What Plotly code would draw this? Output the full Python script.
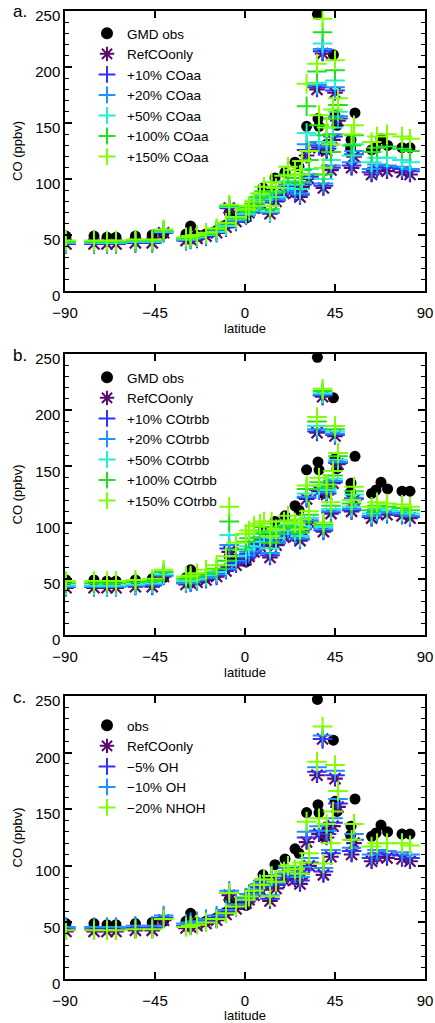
import plotly.graph_objects as go

# ---------------- data ----------------
obs_lat = [-89.5, -75.5, -69, -64.5, -54.8, -46.4, -40.7, -29.5, -27.2, -24, -19.5, -14.2, -9.5, -7.9,
           -4.5, 0.5, 9, 13.2, 15, 20, 25, 27, 30.8, 36.2, 36.5, 37, 39.2, 40.8, 44.2, 45, 46,
           52.8, 53, 55, 63.3, 65.5, 68, 71.3, 78.5, 82.5]
obs_co = [49, 49, 48, 48, 49, 50, 51, 51, 58, 50, 51, 54, 59, 70,
          67, 65, 92, 88, 101, 106, 115, 111, 147, 247, 154, 147, 126, 131, 211, 157, 148,
          127, 135, 159, 126, 129, 136, 130, 128, 128]

mod_lat = [-89.5, -75.5, -69, -64.5, -54.8, -46.4, -40.7, -29.5, -27.2, -24, -19.5, -14.2, -9.5, -7.9,
           -4.5, 0.5, 2.0, 4.5, 7.5, 9.5, 12.5, 13.3, 15.5, 19.5, 21.5, 25, 27.5, 28.5, 30.8, 32,
           36, 37, 38.8, 39.2, 40.8, 43, 44, 45, 46.5, 53.3, 54.5, 63.3, 66, 71, 78.5, 82.5]
ref_co = [42, 42, 42, 42, 43, 43, 52, 45, 46, 47, 49, 52, 57, 74,
          62, 67, 70, 74, 79, 83, 69, 85, 80, 87, 92, 88, 84, 93, 121, 100,
          180, 128, 212, 92, 125, 108, 135, 177, 152, 110, 120, 104, 108, 107, 106, 104]

# panel a: anthropogenic CO emissions increased
aa10 = [42, 42, 42, 42, 43, 43, 52, 45, 46, 47, 49, 52, 57, 74,
        62, 68, 71, 74, 80, 84, 70, 86, 81, 88, 93, 89, 86, 95, 126, 102,
        182, 130, 214, 94, 127, 110, 138, 179, 154, 112, 122, 106, 110, 110, 109, 107]
aa20 = [43, 43, 43, 43, 44, 44, 53, 46, 47, 48, 50, 53, 58, 75,
        63, 68, 71, 75, 80, 85, 70, 87, 82, 89, 95, 91, 87, 97, 131, 104,
        184, 133, 216, 96, 129, 112, 140, 182, 156, 115, 125, 109, 113, 112, 111, 109]
aa50 = [43, 43, 43, 43, 44, 44, 53, 46, 47, 48, 50, 53, 58, 75,
        64, 69, 72, 76, 82, 86, 71, 89, 84, 92, 98, 95, 91, 101, 141, 109,
        186, 139, 221, 100, 133, 117, 146, 188, 160, 121, 131, 115, 119, 119, 117, 115]
aa100 = [44, 44, 44, 44, 45, 45, 54, 47, 48, 49, 51, 55, 60, 76,
         65, 71, 74, 78, 84, 89, 73, 93, 88, 97, 104, 101, 97, 108, 165, 117,
         196, 148, 231, 104, 139, 124, 154, 197, 166, 130, 139, 124, 128, 129, 127, 125]
aa150 = [45, 45, 45, 45, 46, 46, 55, 48, 49, 50, 52, 56, 61, 77,
         66, 73, 76, 80, 87, 93, 76, 97, 92, 103, 111, 108, 104, 116, 185, 125,
         203, 157, 243, 110, 146, 131, 162, 206, 172, 140, 148, 133, 138, 140, 138, 136]

# panel b: tropical biomass burning CO emissions increased
bb10 = [43, 43, 43, 43, 44, 44, 53, 46, 47, 48, 50, 53, 58, 77,
        64, 69, 72, 76, 81, 85, 71, 87, 82, 88, 93, 89, 85, 94, 122, 101,
        181, 129, 213, 93, 126, 109, 136, 178, 153, 111, 121, 105, 109, 108, 107, 105]
bb20 = [43, 43, 43, 43, 44, 45, 53, 46, 47, 49, 51, 54, 59, 80,
        66, 71, 74, 78, 83, 87, 73, 88, 83, 90, 95, 90, 86, 95, 123, 102,
        183, 130, 214, 94, 127, 110, 137, 179, 154, 112, 122, 106, 110, 109, 108, 106]
bb50 = [44, 44, 44, 44, 45, 46, 54, 48, 49, 50, 53, 56, 62, 89,
        70, 76, 79, 83, 87, 91, 77, 92, 86, 93, 98, 93, 88, 97, 126, 104,
        186, 133, 215, 96, 129, 112, 139, 181, 156, 114, 125, 108, 112, 111, 110, 108]
bb100 = [46, 46, 46, 46, 47, 48, 56, 50, 51, 53, 55, 59, 66, 101,
         76, 83, 86, 90, 93, 96, 82, 96, 90, 97, 102, 96, 91, 100, 130, 107,
         190, 136, 217, 98, 131, 115, 142, 183, 159, 117, 128, 111, 115, 114, 113, 111]
bb150 = [48, 48, 48, 48, 49, 50, 58, 52, 53, 55, 58, 62, 70, 114,
         82, 90, 93, 97, 99, 101, 88, 101, 94, 101, 106, 100, 94, 103, 133, 110,
         194, 140, 219, 100, 134, 118, 146, 186, 162, 120, 132, 114, 118, 117, 116, 114]

# panel c: OH reduced
oh5 = [44, 44, 44, 44, 45, 45, 54, 47, 48, 49, 51, 54, 59, 76,
       64, 69, 72, 76, 81, 86, 71, 88, 83, 90, 95, 91, 87, 96, 125, 103,
       183, 131, 212, 95, 128, 111, 138, 180, 155, 113, 123, 107, 111, 110, 109, 107]
oh10 = [46, 46, 46, 46, 47, 47, 56, 49, 50, 51, 53, 56, 61, 78,
        66, 72, 75, 79, 84, 88, 74, 91, 85, 93, 98, 94, 90, 99, 130, 107,
        187, 135, 215, 98, 131, 114, 142, 184, 159, 116, 128, 110, 114, 113, 112, 110]
nhoh20 = [43, 43, 43, 43, 44, 44, 53, 46, 47, 48, 50, 53, 58, 76,
          64, 70, 73, 78, 83, 88, 73, 91, 86, 95, 100, 97, 93, 103, 139, 111,
          192, 142, 223, 102, 137, 120, 148, 189, 166, 123, 137, 117, 120, 120, 120, 118]

panel_labels = ["a.", "b.", "c."]
panel_series = [
    [("GMD obs", None), ("RefCOonly", None), ("+10% COaa", aa10), ("+20% COaa", aa20),
     ("+50% COaa", aa50), ("+100% COaa", aa100), ("+150% COaa", aa150)],
    [("GMD obs", None), ("RefCOonly", None), ("+10% COtrbb", bb10), ("+20% COtrbb", bb20),
     ("+50% COtrbb", bb50), ("+100% COtrbb", bb100), ("+150% COtrbb", bb150)],
    [("obs", None), ("RefCOonly", None), ("\u22125% OH", oh5), ("\u221210% OH", oh10),
     ("\u221220% NHOH", nhoh20)],
]
panel_colors = [
    ["#3030ff", "#1e90ff", "#22f0d0", "#20e020", "#80ff00"],
    ["#3030ff", "#1e90ff", "#22f0d0", "#20e020", "#80ff00"],
    ["#3030ff", "#1e90ff", "#80ff00"],
]
x_ticks = [-90, -45, 0, 45, 90]
y_ticks = [0, 50, 100, 150, 200, 250]

# ---------------- figure ----------------
W, H = 435, 1023
FONT = "Liberation Sans, Arial, sans-serif"
ref_color = "#5a0c6e"

# pixel positions of each panel (top, bottom) and legend top offset
panel_px = [(11, 291), (354, 635), (696, 979)]
legend_off = [7, 8, 14]

fig = go.Figure()
layout = dict(
    width=W, height=H, margin=dict(l=65, r=10, t=0, b=0, autoexpand=False),
    paper_bgcolor="white", plot_bgcolor="white",
    font=dict(family=FONT, size=14, color="black"),
    showlegend=True,
)
annotations = []

for p in range(3):
    sfx = "" if p == 0 else str(p + 1)
    xa, ya = "x" + sfx, "y" + sfx
    lg = "legend" + sfx
    series = panel_series[p]
    # obs
    fig.add_trace(go.Scatter(x=obs_lat, y=obs_co, mode="markers", name=series[0][0],
                             xaxis=xa, yaxis=ya, legend=lg,
                             marker=dict(symbol="circle", size=11, color="black",
                                         line=dict(width=0))))
    # reference
    fig.add_trace(go.Scatter(x=mod_lat, y=ref_co, mode="markers", name=series[1][0],
                             xaxis=xa, yaxis=ya, legend=lg,
                             marker=dict(symbol="asterisk-open", size=13, color=ref_color,
                                         line=dict(color=ref_color, width=2.2))))
    for (name, vals), col in zip(series[2:], panel_colors[p]):
        fig.add_trace(go.Scatter(x=mod_lat, y=vals, mode="markers", name=name,
                                 xaxis=xa, yaxis=ya, legend=lg,
                                 marker=dict(symbol="cross-thin-open", size=14, color=col,
                                             line=dict(color=col, width=2))))
    top, bot = panel_px[p]
    dom = [1 - bot / H, 1 - top / H]
    layout["xaxis" + sfx] = dict(
        domain=[0, 1], range=[-90, 90], anchor=ya, tickvals=x_ticks,
        ticks="inside", ticklen=7, tickwidth=1.5, tickcolor="black",
        showline=True, linecolor="black", linewidth=1.5, mirror="ticks",
        showgrid=False, zeroline=False, tickfont=dict(size=15),
        ticklabelstandoff=7, automargin=False,
        title=dict(text="latitude", font=dict(size=13), standoff=1),
    )
    layout["yaxis" + sfx] = dict(
        domain=dom, range=[0, 250], anchor=xa, tickvals=y_ticks,
        ticks="inside", ticklen=7, tickwidth=1.5, tickcolor="black",
        minor=dict(dtick=10, ticks="inside", ticklen=4, tickwidth=1, tickcolor="black"),
        showline=True, linecolor="black", linewidth=1.5, mirror="ticks",
        showgrid=False, zeroline=False, tickfont=dict(size=15),
        ticklabelshift=5, automargin=False,
        title=dict(text="CO (ppbv)", font=dict(size=13), standoff=10),
    )
    layout[lg] = dict(
        x=(87 - 65) / 360, xanchor="left", xref="paper",
        y=1 - (top + legend_off[p]) / H, yanchor="top", yref="paper",
        bgcolor="rgba(0,0,0,0)", borderwidth=0,
        font=dict(size=13.5, family=FONT, color="black"),
        itemsizing="constant", tracegroupgap=0,
    )
    annotations.append(dict(text=panel_labels[p], xref="paper", yref="paper",
                            x=-54 / 360, y=1 - (top + 1) / H, xanchor="left", yanchor="middle",
                            showarrow=False, font=dict(size=17, family=FONT, color="black")))

layout["annotations"] = annotations
fig.update_layout(**layout)
fig.write_html("out.html")
